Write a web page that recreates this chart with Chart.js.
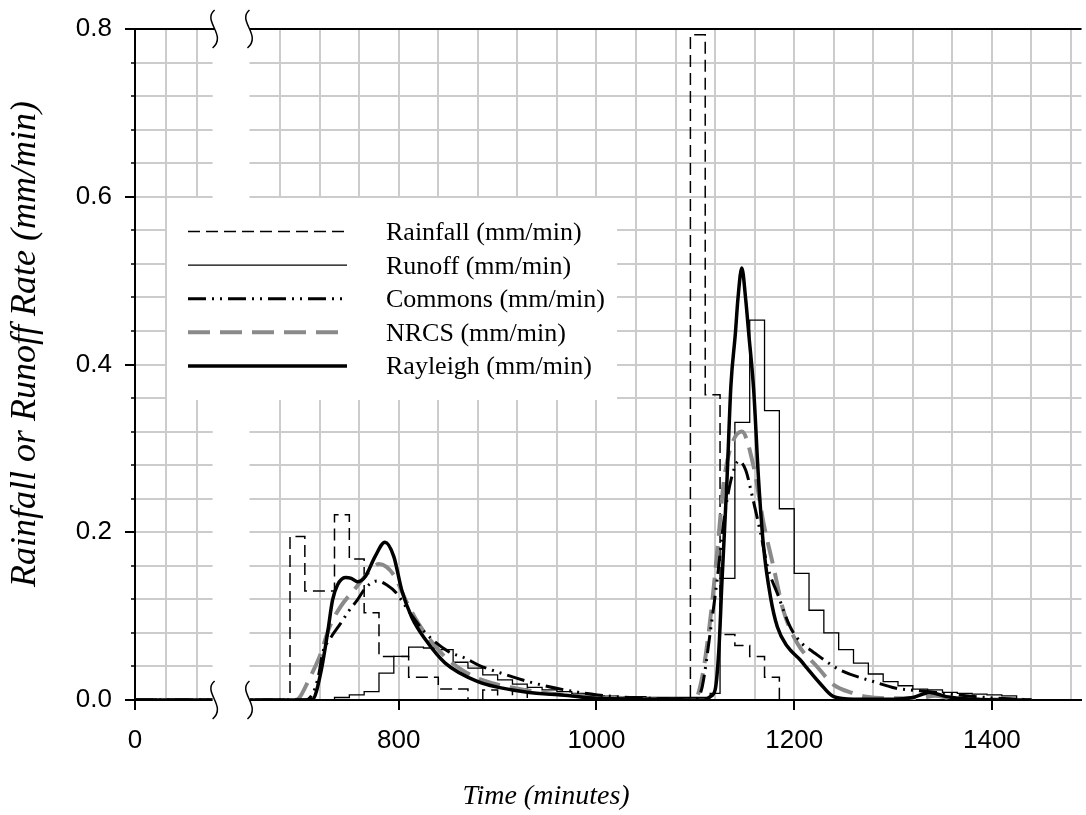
<!DOCTYPE html>
<html><head><meta charset="utf-8">
<script src="https://cdn.jsdelivr.net/npm/chart.js@4.4.1/dist/chart.umd.min.js"></script>
<style>html,body{margin:0;padding:0;background:#fff;}canvas{display:block;}</style>
</head><body>
<canvas id="c" width="1086" height="815"></canvas>
<script>
// ---------------- DATA (time in minutes, rates in mm/min) ----------------
const rainT = [0, 690, 705, 720, 735, 750, 765, 780, 795, 810, 825, 840, 855, 870, 885, 900, 915, 930, 1095, 1110, 1125, 1140, 1155, 1170, 1185, 1440];
const rainV = [0, 0.195, 0.130, 0.130, 0.221, 0.168, 0.104, 0.052, 0.052, 0.027, 0.027, 0.013, 0.013, 0, 0.012, 0, 0.013, 0, 0.793, 0.364, 0.078, 0.065, 0.052, 0.027, 0, 0];

const runT = [0, 735, 750, 765, 780, 795, 810, 825, 840, 855, 870, 885, 900, 915, 930, 945, 960, 975, 990, 1005, 1020, 1050, 1080, 1115, 1125, 1140, 1155, 1170, 1185, 1200, 1215, 1230, 1245, 1260, 1275, 1290, 1305, 1320, 1335, 1350, 1365, 1380, 1395, 1410, 1425, 1440];
const runV = [0, 0.003, 0.006, 0.010, 0.032, 0.052, 0.063, 0.062, 0.060, 0.045, 0.038, 0.030, 0.024, 0.019, 0.015, 0.012, 0.010, 0.008, 0.006, 0.005, 0.004, 0.003, 0.003, 0.008, 0.145, 0.331, 0.453, 0.345, 0.228, 0.151, 0.107, 0.080, 0.060, 0.044, 0.031, 0.022, 0.017, 0.013, 0.012, 0.009, 0.008, 0.007, 0.006, 0.005, 0, 0];

const comT = [0, 705, 714, 719, 723, 730, 741, 750, 758, 766, 778, 788, 798, 805, 813, 827, 850, 867, 880, 901, 934, 968, 1001, 1035, 1080, 1098, 1102, 1107, 1115, 1122, 1129, 1136, 1144, 1151, 1157, 1166, 1173, 1183, 1196, 1209, 1216, 1246, 1280, 1303, 1327, 1343, 1374, 1407, 1427, 1440];
const comV = [0, 0, 0.010, 0.030, 0.056, 0.072, 0.091, 0.107, 0.119, 0.133, 0.142, 0.137, 0.127, 0.115, 0.101, 0.080, 0.058, 0.050, 0.042, 0.033, 0.021, 0.012, 0.006, 0.003, 0.001, 0, 0.002, 0.016, 0.080, 0.143, 0.215, 0.262, 0.285, 0.274, 0.246, 0.199, 0.159, 0.127, 0.087, 0.066, 0.060, 0.036, 0.022, 0.014, 0.011, 0.009, 0.005, 0.002, 0.001, 0];

const nrcsT = [0, 695, 699, 709, 720, 730, 741, 756, 770, 780, 795, 807, 820, 837, 850, 865, 884, 918, 951, 985, 1018, 1050, 1095, 1100, 1107, 1115, 1122, 1129, 1136, 1147, 1159, 1169, 1179, 1189, 1203, 1223, 1240, 1260, 1273, 1300, 1330, 1342, 1360, 1440];
const nrcsV = [0, 0, 0.002, 0.024, 0.052, 0.087, 0.111, 0.133, 0.153, 0.162, 0.149, 0.119, 0.091, 0.064, 0.048, 0.035, 0.024, 0.014, 0.008, 0.005, 0.003, 0.001, 0, 0.001, 0.028, 0.095, 0.175, 0.262, 0.302, 0.320, 0.278, 0.211, 0.159, 0.107, 0.068, 0.040, 0.018, 0.008, 0.004, 0.002, 0.003, 0.005, 0.002, 0];

const rayT = [0, 705, 713, 721, 728, 733, 738, 746, 752, 758, 766, 776, 786, 795, 803, 813, 827, 847, 880, 915, 950, 965, 1000, 1050, 1100, 1109, 1115, 1120, 1124, 1127, 1132, 1136, 1140.5, 1143, 1147, 1151, 1154, 1159, 1164, 1169, 1176, 1183, 1193, 1206, 1213, 1226, 1240, 1260, 1300, 1320, 1337, 1354, 1380, 1440];
const rayV = [0, 0, 0.001, 0.032, 0.080, 0.119, 0.137, 0.146, 0.145, 0.141, 0.147, 0.171, 0.188, 0.171, 0.131, 0.099, 0.072, 0.044, 0.022, 0.012, 0.007, 0.006, 0.002, 0.001, 0, 0, 0.004, 0.012, 0.064, 0.143, 0.262, 0.375, 0.437, 0.477, 0.515, 0.477, 0.437, 0.370, 0.262, 0.183, 0.123, 0.087, 0.064, 0.048, 0.038, 0.020, 0.004, 0.001, 0.001, 0.003, 0.009, 0.004, 0.001, 0];

const seriesNames = ['Rainfall (mm/min)', 'Runoff (mm/min)', 'Commons (mm/min)', 'NRCS (mm/min)', 'Rayleigh (mm/min)'];
const X_TICK_LABELS = [0, 800, 1000, 1200, 1400];
const X_GRID = [0, 40, 80, 680, 720, 760, 800, 840, 880, 920, 960, 1000, 1040, 1080, 1120, 1160, 1200, 1240, 1280, 1320, 1360, 1400, 1440, 1480];
const Y_TICK_LABELS = [0, 0.2, 0.4, 0.6, 0.8];
const Y_GRID_STEP = 0.04;
const xTitle = 'Time (minutes)';
const yTitle = 'Rainfall or Runoff Rate (mm/min)';

// ---------------- broken time axis ----------------
const LEFT_END = 100, RIGHT_START = 650;   // visible: 0..100 | 650..end
const AXIS_U_MIN = 533.2, AXIS_U_MAX = 1490.6, LEFT_K = 0.78;

class BrokenTimeScale extends Chart.LinearScale {
  toDisplay(v) {
    const uL = AXIS_U_MIN + LEFT_END * LEFT_K;
    if (v <= LEFT_END) return AXIS_U_MIN + v * LEFT_K;
    if (v < RIGHT_START) return uL + (v - LEFT_END) / (RIGHT_START - LEFT_END) * (RIGHT_START - uL);
    return v;
  }
  getPixelForValue(v) {
    if (v === null || v === undefined || isNaN(v)) return NaN;
    return this.getPixelForDecimal((this.toDisplay(v) - AXIS_U_MIN) / (AXIS_U_MAX - AXIS_U_MIN));
  }
  getValueForPixel(p) {
    const u = AXIS_U_MIN + this.getDecimalForPixel(p) * (AXIS_U_MAX - AXIS_U_MIN);
    const uL = AXIS_U_MIN + LEFT_END * LEFT_K;
    if (u <= uL) return (u - AXIS_U_MIN) / LEFT_K;
    if (u < RIGHT_START) return LEFT_END + (u - uL) / (RIGHT_START - uL) * (RIGHT_START - LEFT_END);
    return u;
  }
}
BrokenTimeScale.id = 'brokenTime';
BrokenTimeScale.defaults = Chart.LinearScale.defaults;
Chart.register(BrokenTimeScale);

const zip = (t, v) => t.map((x, i) => ({x: x, y: v[i]}));
const isMajorY = v => Math.abs(v * 5 - Math.round(v * 5)) < 1e-6;
const yGrid = [];
for (let k = 0; k <= Math.round(0.8 / Y_GRID_STEP); k++) yGrid.push(+(k * Y_GRID_STEP).toFixed(4));

const STYLES = [
  {color: '#000', width: 1.5, dash: [12, 6]},
  {color: '#000', width: 1.3, dash: []},
  {color: '#000', width: 3, dash: [18, 6, 2, 6, 2, 6]},
  {color: '#8a8a8a', width: 4, dash: [22, 10]},
  {color: '#000', width: 3.5, dash: []}
];

const decor = {
  id: 'decor',
  afterDatasetsDraw(chart) {
    const {ctx, chartArea: ca, scales: {x, y}} = chart;
    const gx0 = x.getPixelForValue(LEFT_END) + 0.5, gx1 = x.getPixelForValue(RIGHT_START) - 1;
    ctx.save();
    // axis break gap
    ctx.fillStyle = '#fff';
    ctx.fillRect(gx0, ca.top - 3, gx1 - gx0, ca.bottom - ca.top + 6);
    // top frame line
    ctx.strokeStyle = '#000'; ctx.lineWidth = 2;
    ctx.beginPath();
    ctx.moveTo(ca.left, ca.top); ctx.lineTo(gx0 + 2, ca.top);
    ctx.moveTo(gx1, ca.top); ctx.lineTo(ca.right, ca.top);
    ctx.stroke();
    // break squiggles
    ctx.lineWidth = 1.5;
    const squig = (sx, sy) => {
      ctx.beginPath();
      ctx.moveTo(sx + 1, sy - 19);
      ctx.bezierCurveTo(sx - 12, sy - 8, sx + 14, sy + 6, sx - 1, sy + 19);
      ctx.stroke();
    };
    [ca.top, ca.bottom].forEach(yy => { squig(gx0 + 1, yy); squig(gx1 - 1, yy); });
    // minor y ticks
    ctx.lineWidth = 1.5;
    yGrid.forEach(v => {
      if (isMajorY(v)) return;
      const py = Math.round(y.getPixelForValue(v));
      ctx.beginPath(); ctx.moveTo(ca.left - 4, py); ctx.lineTo(ca.left, py); ctx.stroke();
    });
    // legend
    ctx.fillStyle = '#fff';
    ctx.fillRect(167, 198, 450, 202);
    ctx.font = '26px "Liberation Serif", "Times New Roman", serif';
    ctx.textBaseline = 'alphabetic'; ctx.textAlign = 'left';
    seriesNames.forEach((name, i) => {
      const base = 240 + i * 33.6;
      const st = STYLES[i];
      ctx.strokeStyle = st.color; ctx.lineWidth = st.width; ctx.setLineDash(st.dash); ctx.lineCap = 'butt';
      ctx.beginPath(); ctx.moveTo(188, base - 8.5); ctx.lineTo(347, base - 8.5); ctx.stroke();
      ctx.setLineDash([]);
      ctx.fillStyle = '#000';
      ctx.fillText(name, 386, base);
    });
    // axis titles
    ctx.fillStyle = '#000';
    ctx.font = 'italic 28px "Liberation Serif", "Times New Roman", serif';
    ctx.textAlign = 'center'; ctx.textBaseline = 'alphabetic';
    ctx.fillText(xTitle, 546, 804);
    ctx.save();
    ctx.translate(35, 344);
    ctx.rotate(-Math.PI / 2);
    ctx.font = 'italic 36px "Liberation Serif", "Times New Roman", serif';
    ctx.fillText(yTitle, 0, 0);
    ctx.restore();
    ctx.restore();
  }
};

const datasets = [
  {t: rainT, v: rainV, stepped: 'before'},
  {t: runT, v: runV, stepped: 'before'},
  {t: comT, v: comV},
  {t: nrcsT, v: nrcsV},
  {t: rayT, v: rayV}
].map((d, i) => ({
  label: seriesNames[i],
  data: zip(d.t, d.v),
  borderColor: STYLES[i].color,
  borderWidth: STYLES[i].width,
  borderDash: STYLES[i].dash,
  stepped: d.stepped || false,
  cubicInterpolationMode: d.stepped ? 'default' : 'monotone',
  pointRadius: 0,
  fill: false,
  order: [4, 3, 1, 2, 0][i]
}));

const tickFont = {family: '"Liberation Sans", Arial, sans-serif', size: 26};

new Chart(document.getElementById('c'), {
  type: 'line',
  data: {datasets},
  options: {
    responsive: false,
    animation: false,
    devicePixelRatio: 1,
    layout: {padding: {top: 29, right: 0, left: 0, bottom: 0}},
    plugins: {legend: {display: false}, tooltip: {enabled: false}},
    scales: {
      x: {
        type: 'brokenTime',
        position: 'bottom',
        afterDataLimits: s => { s.min = 0; s.max = 1490; },
        afterBuildTicks: s => { s.ticks = X_GRID.map(v => ({value: v})); },
        afterFit: s => { s.height = 115; },
        ticks: {
          autoSkip: false, maxRotation: 0, minRotation: 0,
          callback: v => X_TICK_LABELS.includes(v) ? String(v) : '',
          font: tickFont, color: '#000', padding: 15
        },
        grid: {
          color: '#cccccc', lineWidth: 2, tickLength: 10, tickWidth: 2,
          tickColor: c => (c.tick && X_TICK_LABELS.includes(c.tick.value)) ? '#000' : 'rgba(0,0,0,0)'
        },
        border: {color: '#000', width: 2}
      },
      y: {
        min: 0, max: 0.8,
        afterBuildTicks: s => { s.ticks = yGrid.map(v => ({value: v})); },
        afterFit: s => { s.width = 135; },
        ticks: {
          autoSkip: false,
          callback: v => isMajorY(v) ? v.toFixed(1) : '',
          font: tickFont, color: '#000', padding: 13
        },
        grid: {
          color: '#cccccc', lineWidth: 2, tickLength: 10, tickWidth: 2,
          tickColor: c => (c.tick && isMajorY(c.tick.value)) ? '#000' : 'rgba(0,0,0,0)'
        },
        border: {color: '#000', width: 2}
      }
    }
  },
  plugins: [decor]
});
</script>
</body></html>
